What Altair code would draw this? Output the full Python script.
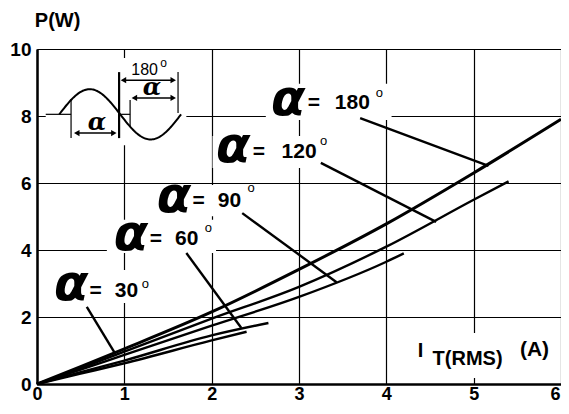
import altair as alt
import pandas as pd
import numpy as np

# ---------------- curve data (P in W vs I_T(RMS) in A) ----------------
series = ["180", "120", "90", "60", "30"]
i_180 = [0, 0.5, 1, 2, 3, 4, 5, 6]
p_180 = [0, 0.52, 1.05, 2.15, 3.42, 4.78, 6.3, 7.9]
i_120 = [0, 0.5, 1, 2, 3, 4, 5, 5.4]
p_120 = [0, 0.47, 0.97, 1.95, 2.9, 4.1, 5.5, 6.05]
i_90 = [0, 0.5, 1, 2, 3, 4, 4.2]
p_90 = [0, 0.43, 0.87, 1.74, 2.6, 3.65, 3.9]
i_60 = [0, 0.5, 1, 2, 2.65]
p_60 = [0, 0.35, 0.7, 1.45, 1.82]
i_30 = [0, 0.5, 1, 2, 2.4]
p_30 = [0, 0.31, 0.62, 1.3, 1.56]

x_ticks = [0, 1, 2, 3, 4, 5, 6]
y_ticks = [0, 2, 4, 6, 8, 10]

curves = {"180": (i_180, p_180), "120": (i_120, p_120), "90": (i_90, p_90),
          "60": (i_60, p_60), "30": (i_30, p_30)}
rows = []
for s in series:
    xs, ys = curves[s]
    for k, (a, b) in enumerate(zip(xs, ys)):
        rows.append({"s": s, "x": a, "y": b, "o": k})
df = pd.DataFrame(rows)

# ---------------- annotations (data units) ----------------
lab_text = ["180", "120", "90", "60", "30"]
lab_alpha_x = [2.68, 2.05, 1.37, 0.88, 0.195]
lab_alpha_y = [8.03, 6.63, 5.13, 4.0, 2.51]
lab_eq_x = [3.10, 2.47, 1.78, 1.29, 0.60]
lab_num_x = [3.41, 2.80, 2.07, 1.58, 0.89]
lab_num_y = [8.21, 6.75, 5.28, 4.15, 2.60]
lab_deg_x = [3.88, 3.24, 2.41, 1.92, 1.20]
lab_deg_y = [8.57, 7.13, 5.73, 4.54, 2.87]

ptr_x1 = [3.70, 3.25, 2.35, 1.71, 0.57]
ptr_y1 = [7.94, 6.6, 5.1, 3.91, 2.3]
ptr_x2 = [5.17, 4.57, 3.43, 2.34, 0.89]
ptr_y2 = [6.51, 4.84, 3.04, 1.67, 0.93]

box_x1 = [2.62, 2.01, 1.33, 0.80, 0.137, 4.24, 0.10]
box_x2 = [4.06, 3.40, 2.54, 2.05, 1.31, 5.95, 1.71]
box_y1 = [7.88, 6.45, 5.01, 3.91, 2.42, 0.18, 7.13]
box_y2 = [8.96, 7.40, 5.94, 4.90, 3.40, 1.52, 9.73]

FONT = "Liberation Sans"
X = alt.X("x:Q", scale=alt.Scale(domain=[0, 6], nice=False, zero=False),
          axis=alt.Axis(values=x_ticks, title=None, grid=True, gridColor="black",
                        gridWidth=1.2, gridOpacity=1, domainColor="black", domainWidth=2.5,
                        ticks=False, labelFont=FONT, labelFontWeight="bold", labelFontSize=18,
                        labelColor="black", labelPadding=1, labelFlush=False, labelOverlap=False,
                        labelAlign={"condition": {"test": "datum.value == 6", "value": "right"},
                                    "value": "center"},
                        labelOffset={"condition": {"test": "datum.value == 6", "value": -1},
                                     "value": 0}))
Y = alt.Y("y:Q", scale=alt.Scale(domain=[0, 10], nice=False, zero=False),
          axis=alt.Axis(values=y_ticks, title=None, grid=True, gridColor="black",
                        gridWidth=1.2, gridOpacity=1, domainColor="black", domainWidth=2.5,
                        ticks=False, labelFont=FONT, labelFontWeight="bold", labelFontSize=19,
                        labelColor="black", labelPadding=6, labelFlush=False, labelOverlap=False))

boxes = pd.DataFrame({"x": box_x1, "x2": box_x2, "y": box_y1, "y2": box_y2})
box_layer = alt.Chart(boxes).mark_rect(color="white").encode(x=X, x2="x2:Q", y=Y, y2="y2:Q")

line180 = alt.Chart(df[df.s == "180"]).mark_line(color="black", strokeWidth=3, interpolate="monotone").encode(
    x=X, y=Y, order="o:Q")
lines_other = alt.Chart(df[df.s != "180"]).mark_line(color="black", strokeWidth=2.4, interpolate="monotone").encode(
    x=X, y=Y, detail="s:N", order="o:Q")

ptrs = pd.DataFrame({"x": ptr_x1, "y": ptr_y1, "x2": ptr_x2, "y2": ptr_y2})
ptr_layer = alt.Chart(ptrs).mark_rule(color="black", strokeWidth=2.4).encode(x=X, y=Y, x2="x2:Q", y2="y2:Q")

alpha_df = pd.DataFrame({"x": lab_alpha_x, "y": lab_alpha_y, "t": ["α"] * 5})
alpha_layer = alt.Chart(alpha_df).mark_text(align="left", baseline="alphabetic", font="DejaVu Sans",
                                            fontSize=50, fontWeight="bold", fontStyle="italic",
                                            color="black").encode(x=X, y=Y, text="t:N")
eq_df = pd.DataFrame({"x": lab_eq_x, "y": lab_num_y, "t": ["="] * 5})
eq_layer = alt.Chart(eq_df).mark_text(align="left", baseline="alphabetic", font=FONT, fontSize=21,
                                      fontWeight="bold", color="black").encode(x=X, y=Y, text="t:N")
num_df = pd.DataFrame({"x": lab_num_x, "y": lab_num_y, "t": lab_text})
num_layer = alt.Chart(num_df).mark_text(align="left", baseline="alphabetic", font=FONT, fontSize=21,
                                        fontWeight="bold", color="black").encode(x=X, y=Y, text="t:N")
deg_df = pd.DataFrame({"x": lab_deg_x, "y": lab_deg_y, "t": ["o"] * 5})
deg_layer = alt.Chart(deg_df).mark_text(align="left", baseline="alphabetic", font=FONT, fontSize=13,
                                        color="black").encode(x=X, y=Y, text="t:N")

# ---------------- inset waveform sketch ----------------
sine_x0, sine_x1, sine_c, sine_a = 0.255, 1.65, 8.05, 0.75
sx = np.linspace(sine_x0, sine_x1, 120)
sine_df = pd.DataFrame({"x": sx, "y": sine_c + sine_a * np.sin(2 * np.pi * (sx - sine_x0) / (sine_x1 - sine_x0))})
sine_layer = alt.Chart(sine_df).mark_line(color="black", strokeWidth=2).encode(x=X, y=Y)

seg_x1 = [0.10, 0.94, 0.39, 0.94, 1.066, 1.615]
seg_x2 = [0.39, 1.066, 0.39, 0.94, 1.066, 1.615]
seg_y1 = [8.05, 8.05, 7.34, 7.34, 7.68, 8.09]
seg_y2 = [8.05, 8.05, 8.51, 9.31, 8.48, 9.31]
seg_w = [1.2, 1.2, 1.2, 2.2, 1.2, 1.2]
segs = pd.DataFrame({"x": seg_x1, "x2": seg_x2, "y": seg_y1, "y2": seg_y2, "w": seg_w})
seg_layer = alt.Chart(segs).mark_rule(color="black").encode(
    x=X, x2="x2:Q", y=Y, y2="y2:Q", strokeWidth=alt.StrokeWidth("w:Q", scale=None, legend=None))

arr_x1 = [0.455, 0.99, 1.115]
arr_x2 = [0.88, 1.56, 1.56]
arr_y = [7.49, 9.07, 8.54]
arrs = pd.DataFrame({"x": arr_x1, "x2": arr_x2, "y": arr_y})
arr_layer = alt.Chart(arrs).mark_rule(color="black", strokeWidth=1.5).encode(x=X, x2="x2:Q", y=Y)
headL = alt.Chart(pd.DataFrame({"x": arr_x1, "y": arr_y})).mark_point(
    shape="triangle-left", filled=True, color="black", size=40, opacity=1).encode(x=X, y=Y)
headR = alt.Chart(pd.DataFrame({"x": arr_x2, "y": arr_y})).mark_point(
    shape="triangle-right", filled=True, color="black", size=40, opacity=1).encode(x=X, y=Y)

inset_alpha = alt.Chart(pd.DataFrame({"x": [0.58, 1.21], "y": [7.58, 8.63], "t": ["α", "α"]})).mark_text(
    align="left", baseline="alphabetic", font="DejaVu Serif", fontSize=24, fontWeight="bold",
    fontStyle="italic", color="black").encode(x=X, y=Y, text="t:N")
inset_180 = alt.Chart(pd.DataFrame({"x": [1.08], "y": [9.22], "t": ["180"]})).mark_text(
    align="left", baseline="alphabetic", font=FONT, fontSize=16, color="black").encode(x=X, y=Y, text="t:N")
inset_deg = alt.Chart(pd.DataFrame({"x": [1.41], "y": [9.46], "t": ["o"]})).mark_text(
    align="left", baseline="alphabetic", font=FONT, fontSize=12, color="black").encode(x=X, y=Y, text="t:N")

# ---------------- axis titles ----------------
t_I = alt.Chart(pd.DataFrame({"x": [4.36], "y": [0.806], "t": ["I"]})).mark_text(
    align="left", baseline="alphabetic", font=FONT, fontSize=20, fontWeight="bold", color="black").encode(
    x=X, y=Y, text="t:N")
t_T = alt.Chart(pd.DataFrame({"x": [4.53], "y": [0.567], "t": ["T(RMS)"]})).mark_text(
    align="left", baseline="alphabetic", font=FONT, fontSize=20, fontWeight="bold", color="black").encode(
    x=X, y=Y, text="t:N")
t_A = alt.Chart(pd.DataFrame({"x": [5.53], "y": [0.84], "t": ["(A)"]})).mark_text(
    align="left", baseline="alphabetic", font=FONT, fontSize=21, fontWeight="bold", color="black").encode(
    x=X, y=Y, text="t:N")
t_P = alt.Chart(pd.DataFrame({"x": [-0.025], "y": [10.66], "t": ["P(W)"]})).mark_text(
    align="left", baseline="alphabetic", font=FONT, fontSize=20, fontWeight="bold", color="black").encode(
    x=X, y=Y, text="t:N")

chart = alt.layer(
    box_layer, line180, lines_other, ptr_layer,
    alpha_layer, eq_layer, num_layer, deg_layer,
    sine_layer, seg_layer, arr_layer, headL, headR, inset_alpha, inset_180, inset_deg,
    t_I, t_T, t_A, t_P,
).properties(
    width=524, height=335,
    autosize=alt.AutoSizeParams(type="none"),
    padding={"left": 29, "top": 41, "right": 0, "bottom": 19},
).configure_view(stroke="black", strokeWidth=2).configure(background="white")

chart.save("out.html", embed_options={"renderer": "svg", "actions": False})
